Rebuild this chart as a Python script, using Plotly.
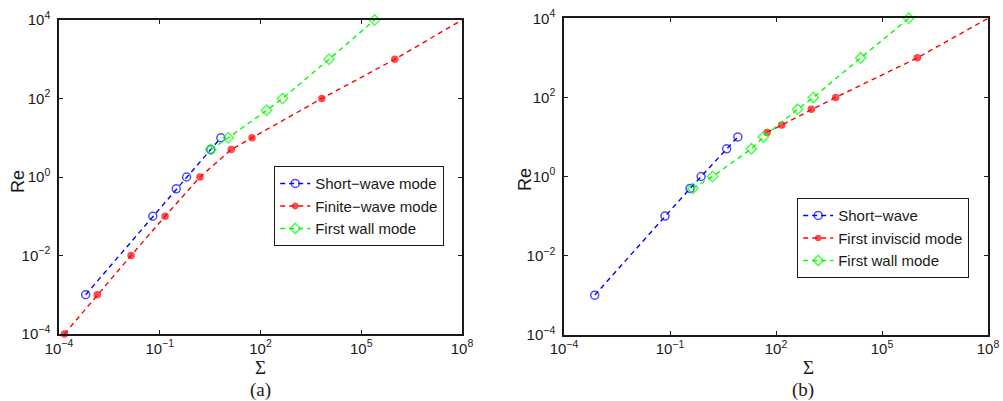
import plotly.graph_objects as go

# ---------- data ----------
# panel (a)
a_short_sigma = [6.2e-4, 0.062, 0.31, 0.63, 3.3, 6.6]
a_short_re = [1e-3, 0.1, 0.5, 1, 5, 10]

a_finite_sigma = [1.45e-4, 1.38e-3, 0.014, 0.144, 1.58, 13.4, 56, 6700, 1e6, 1e8]
a_finite_re = [1e-4, 1e-3, 1e-2, 0.1, 1, 5, 10, 100, 1000, 1e4]

a_wall_sigma = [3.3, 11, 152, 455, 1.1e4, 2.5e5]
a_wall_re = [5, 10, 50, 100, 1000, 1e4]

# panel (b)
b_short_sigma = [7.4e-4, 0.072, 0.37, 0.76, 4.0, 8.3]
b_short_re = [1e-3, 0.1, 0.5, 1, 5, 10]

b_inviscid_sigma = [56, 145, 1000, 4900, 1e6, 1e8]
b_inviscid_re = [13, 20, 50, 100, 1000, 1e4]

b_wall_sigma = [0.44, 1.6, 20, 44, 410, 1140, 2.5e4, 5.7e5]
b_wall_re = [0.5, 1, 5, 10, 50, 100, 1000, 1e4]

x_tickvals = [1e-4, 1e-1, 1e2, 1e5, 1e8]
x_ticktext = ["10<sup>−4</sup>", "10<sup>−1</sup>", "10<sup>2</sup>", "10<sup>5</sup>", "10<sup>8</sup>"]
y_tickvals = [1e-4, 1e-2, 1, 1e2, 1e4]
y_ticktext = ["10<sup>−4</sup>", "10<sup>−2</sup>", "10<sup>0</sup>", "10<sup>2</sup>", "10<sup>4</sup>"]

names_a = ["Short−wave mode", "Finite−wave mode", "First wall mode"]
names_b = ["Short−wave", "First inviscid mode", "First wall mode"]

# ---------- styling ----------
W, H = 1003, 401
BLUE, RED, GREEN = "#0000ff", "#ff0000", "#00ff00"
DASH = "5px,4px"
LW = 1.4


def px_x(p):
    return p / W


def px_y(p):
    return 1 - p / H


fig = go.Figure()


def add(x, y, name, color, symbol, size, xa, ya, legend, hide_last=False):
    sizes = [size] * len(x)
    if hide_last:
        sizes[-1] = 0
    fig.add_trace(go.Scatter(
        x=x, y=y, name=name, mode="lines+markers",
        line=dict(color=color, width=LW, dash=DASH),
        marker=dict(symbol=symbol, size=sizes, color=color,
                    line=dict(color=color, width=1.5)),
        xaxis=xa, yaxis=ya, legend=legend, cliponaxis=False,
    ))


add(a_short_sigma, a_short_re, names_a[0], BLUE, "circle-open", 8, "x", "y", "legend")
add(a_finite_sigma, a_finite_re, names_a[1], RED, "circle", 6, "x", "y", "legend", hide_last=True)
add(a_wall_sigma, a_wall_re, names_a[2], GREEN, "diamond-open", 8, "x", "y", "legend")

add(b_short_sigma, b_short_re, names_b[0], BLUE, "circle-open", 8, "x2", "y2", "legend2")
add(b_inviscid_sigma, b_inviscid_re, names_b[1], RED, "circle", 6, "x2", "y2", "legend2", hide_last=True)
add(b_wall_sigma, b_wall_re, names_b[2], GREEN, "diamond-open", 8, "x2", "y2", "legend2")

tickfont = dict(family="Liberation Sans, Arial, sans-serif", size=15, color="#1a1a1a")
axis_common = dict(
    type="log", showgrid=False, zeroline=False, automargin=False,
    showline=True, linecolor="#1a1a1a", linewidth=1.5, mirror="ticks",
    ticks="inside", ticklen=4, tickcolor="#1a1a1a", tickwidth=1,
    tickfont=tickfont, tickmode="array",
)
xaxis_common = dict(axis_common, range=[-4, 8], tickvals=x_tickvals, ticktext=x_ticktext)
yaxis_common = dict(axis_common, range=[-4, 4], tickvals=y_tickvals, ticktext=y_ticktext,
                    ticklabelstandoff=4)

legend_common = dict(
    xanchor="left", yanchor="middle",
    bgcolor="white", bordercolor="#1a1a1a", borderwidth=1.2,
    font=dict(family="Liberation Sans, Arial, sans-serif", size=15, color="#1a1a1a"),
    itemwidth=30, tracegroupgap=0,
)

fig.update_layout(
    width=W, height=H,
    margin=dict(l=0, r=0, t=0, b=0, autoexpand=False),
    paper_bgcolor="white", plot_bgcolor="white",
    xaxis=dict(xaxis_common, domain=[px_x(59), px_x(462)], anchor="y"),
    yaxis=dict(yaxis_common, domain=[px_y(334), px_y(20)], anchor="x"),
    xaxis2=dict(xaxis_common, domain=[px_x(564), px_x(988)], anchor="y2"),
    yaxis2=dict(yaxis_common, domain=[px_y(334.7), px_y(18.3)], anchor="x2"),
    legend=dict(legend_common, x=px_x(274), y=px_y(206)),
    legend2=dict(legend_common, x=px_x(797), y=px_y(238)),
    showlegend=True,
)

serif = dict(family="Liberation Serif, Times New Roman, serif", size=19, color="#1a1a1a")
sans = dict(family="Liberation Sans, Arial, sans-serif", size=18, color="#1a1a1a")
annots = [
    (260, 367, "Σ", serif, 0), (260, 390, "(a)", serif, 0), (18, 182, "Re", sans, -90),
    (808, 367, "Σ", serif, 0), (803, 390, "(b)", serif, 0), (525, 180, "Re", sans, -90),
]
for xp, yp, txt, f, ang in annots:
    fig.add_annotation(x=px_x(xp), y=px_y(yp), xref="paper", yref="paper",
                       text=txt, showarrow=False, font=f, textangle=ang,
                       xanchor="center", yanchor="middle")

fig.write_html("out.html")
